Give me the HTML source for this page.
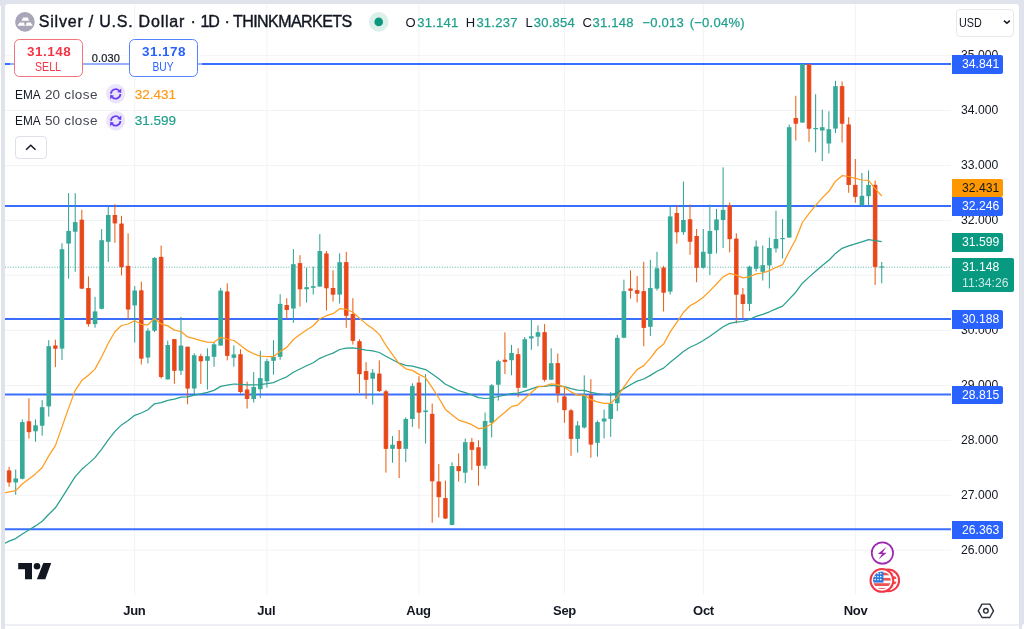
<!DOCTYPE html>
<html><head><meta charset="utf-8"><title>Silver / U.S. Dollar</title>
<style>
html,body{margin:0;padding:0}
body{width:1024px;height:629px;overflow:hidden;position:relative;background:#e0e3eb;font-family:"Liberation Sans",sans-serif;color:#131722}
.abs{position:absolute}
.panel{position:absolute;left:5px;top:3.9px;width:1014.2px;height:626px;background:#fff;border-radius:3.5px 3.5px 0 0}
.t{position:absolute;white-space:nowrap;line-height:1}
.plab{position:absolute;left:952px;width:51px;height:18.4px;border-radius:0 2px 2px 0;color:#fff;font-size:13.3px;line-height:18.4px}
.plab span{position:absolute;left:9.7px;top:-0.35px;transform:scaleX(0.917);transform-origin:0 50%;white-space:nowrap}
.ptxt{position:absolute;left:960.7px;font-size:13.3px;line-height:14px;height:14px;color:#131722;transform:scaleX(0.917);transform-origin:0 50%;white-space:nowrap}
.mon{position:absolute;top:603.5px;font-size:13px;font-weight:bold;letter-spacing:-0.3px;line-height:14px;width:60px;text-align:center;color:#131722}

.ohlc{top:16.4px;font-size:13px;color:#131722}
.ohlc.v{color:#22a08d;letter-spacing:0.25px;-webkit-text-stroke:0.25px #22a08d}
.bs{top:39.3px;width:66.6px;height:35.5px;border:1.25px solid;border-radius:5.5px;background:#fff}
.bs .p{top:4.7px;font-size:13.5px;font-weight:bold;letter-spacing:0.45px;padding-left:1px}
.bs .l{top:20.5px;font-size:12.2px;transform:scaleX(0.875)}
.ttl{top:14px;font-size:16px;color:#131722;-webkit-text-stroke:0.4px #131722}
.ind{font-size:13.5px;color:#434651}
</style></head><body>
<div class="abs" style="left:-3px;top:4.8px;width:4px;height:630px;background:#fff;border-radius:0 2.5px 0 0"></div>
<div class="abs" style="left:1021.9px;top:623.5px;width:6px;height:8px;background:#fff;border-radius:2.5px 0 0 0"></div>
<div class="panel"></div>
<div class="abs" style="left:5px;top:624px;width:1014.2px;height:2.1px;background:#eef0f5"></div>
<svg class="abs" style="left:0;top:0" width="1024" height="629" viewBox="0 0 1024 629">
<line x1="5" x2="951" y1="55.4" y2="55.4" stroke="#f2f3f5" stroke-width="1"/>
<line x1="5" x2="951" y1="110.5" y2="110.5" stroke="#f2f3f5" stroke-width="1"/>
<line x1="5" x2="951" y1="165.5" y2="165.5" stroke="#f2f3f5" stroke-width="1"/>
<line x1="5" x2="951" y1="220.5" y2="220.5" stroke="#f2f3f5" stroke-width="1"/>
<line x1="5" x2="951" y1="275.2" y2="275.2" stroke="#f2f3f5" stroke-width="1"/>
<line x1="5" x2="951" y1="330.4" y2="330.4" stroke="#f2f3f5" stroke-width="1"/>
<line x1="5" x2="951" y1="385.5" y2="385.5" stroke="#f2f3f5" stroke-width="1"/>
<line x1="5" x2="951" y1="440.4" y2="440.4" stroke="#f2f3f5" stroke-width="1"/>
<line x1="5" x2="951" y1="495.3" y2="495.3" stroke="#f2f3f5" stroke-width="1"/>
<line x1="5" x2="951" y1="550.2" y2="550.2" stroke="#f2f3f5" stroke-width="1"/>
<line x1="134.7" x2="134.7" y1="4" y2="594.6" stroke="#f2f3f5" stroke-width="1"/>
<line x1="266.9" x2="266.9" y1="4" y2="594.6" stroke="#f2f3f5" stroke-width="1"/>
<line x1="419.0" x2="419.0" y1="4" y2="594.6" stroke="#f2f3f5" stroke-width="1"/>
<line x1="564.4" x2="564.4" y1="4" y2="594.6" stroke="#f2f3f5" stroke-width="1"/>
<line x1="703.3" x2="703.3" y1="4" y2="594.6" stroke="#f2f3f5" stroke-width="1"/>
<line x1="855.3" x2="855.3" y1="4" y2="594.6" stroke="#f2f3f5" stroke-width="1"/>
<line x1="5" x2="951" y1="267.2" y2="267.2" stroke="#5bb5a6" stroke-width="1" stroke-dasharray="1 1.6"/>
<line x1="5" x2="951" y1="64.0" y2="64.0" stroke="#2962ff" stroke-width="2" stroke-opacity="0.92"/>
<line x1="5" x2="951" y1="205.9" y2="205.9" stroke="#2962ff" stroke-width="2" stroke-opacity="0.92"/>
<line x1="5" x2="951" y1="319.1" y2="319.1" stroke="#2962ff" stroke-width="2" stroke-opacity="0.92"/>
<line x1="5" x2="951" y1="394.6" y2="394.6" stroke="#2962ff" stroke-width="2" stroke-opacity="0.92"/>
<line x1="5" x2="951" y1="529.3" y2="529.3" stroke="#2962ff" stroke-width="2" stroke-opacity="0.92"/>
<line x1="9.10" x2="9.10" y1="466.9" y2="486.8" stroke="#e8590c" stroke-width="1"/>
<rect x="6.80" y="470.5" width="4.6" height="11.9" fill="#f0555a"/>
<rect x="7.50" y="470.5" width="3.20" height="11.9" fill="#e64a0c"/>
<line x1="15.71" x2="15.71" y1="469.5" y2="494.7" stroke="#2a9f90" stroke-width="1"/>
<rect x="13.41" y="478.4" width="4.6" height="4.0" fill="#36a999"/>
<line x1="22.32" x2="22.32" y1="419.4" y2="479.4" stroke="#2a9f90" stroke-width="1"/>
<rect x="20.02" y="422.1" width="4.6" height="56.7" fill="#36a999"/>
<line x1="28.93" x2="28.93" y1="398.3" y2="438.6" stroke="#e8590c" stroke-width="1"/>
<rect x="26.63" y="421.4" width="4.6" height="10.7" fill="#f0555a"/>
<rect x="27.33" y="421.4" width="3.20" height="10.7" fill="#e64a0c"/>
<line x1="35.54" x2="35.54" y1="419.4" y2="441.8" stroke="#2a9f90" stroke-width="1"/>
<rect x="33.24" y="425.3" width="4.6" height="6.0" fill="#36a999"/>
<line x1="42.16" x2="42.16" y1="400.1" y2="435.7" stroke="#2a9f90" stroke-width="1"/>
<rect x="39.86" y="407.2" width="4.6" height="18.5" fill="#36a999"/>
<line x1="48.77" x2="48.77" y1="340.2" y2="416.6" stroke="#2a9f90" stroke-width="1"/>
<rect x="46.47" y="346.2" width="4.6" height="60.2" fill="#36a999"/>
<line x1="55.38" x2="55.38" y1="339.6" y2="367.1" stroke="#e8590c" stroke-width="1"/>
<rect x="53.08" y="345.6" width="4.6" height="3.0" fill="#f0555a"/>
<rect x="53.78" y="345.6" width="3.20" height="3.0" fill="#e64a0c"/>
<line x1="61.99" x2="61.99" y1="243.2" y2="360.1" stroke="#2a9f90" stroke-width="1"/>
<rect x="59.69" y="249.2" width="4.6" height="99.4" fill="#36a999"/>
<line x1="68.60" x2="68.60" y1="193.1" y2="278.6" stroke="#2a9f90" stroke-width="1"/>
<rect x="66.30" y="230.9" width="4.6" height="12.7" fill="#36a999"/>
<line x1="75.21" x2="75.21" y1="193.1" y2="271.8" stroke="#2a9f90" stroke-width="1"/>
<rect x="72.91" y="222.1" width="4.6" height="9.6" fill="#36a999"/>
<line x1="81.82" x2="81.82" y1="209.8" y2="289" stroke="#e8590c" stroke-width="1"/>
<rect x="79.52" y="219.8" width="4.6" height="68.7" fill="#f0555a"/>
<rect x="80.22" y="219.8" width="3.20" height="68.7" fill="#e64a0c"/>
<line x1="88.43" x2="88.43" y1="276.4" y2="326.7" stroke="#e8590c" stroke-width="1"/>
<rect x="86.13" y="288" width="4.6" height="36.1" fill="#f0555a"/>
<rect x="86.83" y="288" width="3.20" height="36.1" fill="#e64a0c"/>
<line x1="95.04" x2="95.04" y1="296.8" y2="327.7" stroke="#2a9f90" stroke-width="1"/>
<rect x="92.74" y="311.4" width="4.6" height="12.7" fill="#36a999"/>
<line x1="101.65" x2="101.65" y1="229.1" y2="309.4" stroke="#2a9f90" stroke-width="1"/>
<rect x="99.35" y="240.2" width="4.6" height="68.6" fill="#36a999"/>
<line x1="108.26" x2="108.26" y1="206.4" y2="261.9" stroke="#2a9f90" stroke-width="1"/>
<rect x="105.96" y="215" width="4.6" height="26.8" fill="#36a999"/>
<line x1="114.88" x2="114.88" y1="204.3" y2="242.8" stroke="#e8590c" stroke-width="1"/>
<rect x="112.58" y="215" width="4.6" height="8.3" fill="#f0555a"/>
<rect x="113.28" y="215" width="3.20" height="8.3" fill="#e64a0c"/>
<line x1="121.49" x2="121.49" y1="215.8" y2="275.4" stroke="#e8590c" stroke-width="1"/>
<rect x="119.19" y="223.7" width="4.6" height="43.4" fill="#f0555a"/>
<rect x="119.89" y="223.7" width="3.20" height="43.4" fill="#e64a0c"/>
<line x1="128.10" x2="128.10" y1="233.3" y2="319.8" stroke="#e8590c" stroke-width="1"/>
<rect x="125.80" y="265.9" width="4.6" height="43.5" fill="#f0555a"/>
<rect x="126.50" y="265.9" width="3.20" height="43.5" fill="#e64a0c"/>
<line x1="134.71" x2="134.71" y1="286.1" y2="342.6" stroke="#2a9f90" stroke-width="1"/>
<rect x="132.41" y="290.5" width="4.6" height="14.9" fill="#36a999"/>
<line x1="141.32" x2="141.32" y1="281.6" y2="364.5" stroke="#e8590c" stroke-width="1"/>
<rect x="139.02" y="290.5" width="4.6" height="68.0" fill="#f0555a"/>
<rect x="139.72" y="290.5" width="3.20" height="68.0" fill="#e64a0c"/>
<line x1="147.93" x2="147.93" y1="328.3" y2="363.5" stroke="#2a9f90" stroke-width="1"/>
<rect x="145.63" y="330.7" width="4.6" height="26.8" fill="#36a999"/>
<line x1="154.54" x2="154.54" y1="257.1" y2="332.1" stroke="#2a9f90" stroke-width="1"/>
<rect x="152.24" y="257.9" width="4.6" height="72.8" fill="#36a999"/>
<line x1="161.15" x2="161.15" y1="245.6" y2="378.6" stroke="#e8590c" stroke-width="1"/>
<rect x="158.85" y="256.9" width="4.6" height="120.1" fill="#f0555a"/>
<rect x="159.55" y="256.9" width="3.20" height="120.1" fill="#e64a0c"/>
<line x1="167.76" x2="167.76" y1="340.6" y2="379.4" stroke="#2a9f90" stroke-width="1"/>
<rect x="165.46" y="345" width="4.6" height="34.4" fill="#36a999"/>
<line x1="174.38" x2="174.38" y1="339.2" y2="383.8" stroke="#e8590c" stroke-width="1"/>
<rect x="172.07" y="339.2" width="4.6" height="31.5" fill="#f0555a"/>
<rect x="172.77" y="339.2" width="3.20" height="31.5" fill="#e64a0c"/>
<line x1="180.99" x2="180.99" y1="316.8" y2="375" stroke="#2a9f90" stroke-width="1"/>
<rect x="178.69" y="345.6" width="4.6" height="25.1" fill="#36a999"/>
<line x1="187.60" x2="187.60" y1="346.8" y2="404.3" stroke="#e8590c" stroke-width="1"/>
<rect x="185.30" y="346.8" width="4.6" height="41.6" fill="#f0555a"/>
<rect x="186.00" y="346.8" width="3.20" height="41.6" fill="#e64a0c"/>
<line x1="194.21" x2="194.21" y1="353.3" y2="394.6" stroke="#2a9f90" stroke-width="1"/>
<rect x="191.91" y="355.2" width="4.6" height="33.3" fill="#36a999"/>
<line x1="200.82" x2="200.82" y1="353.8" y2="384" stroke="#e8590c" stroke-width="1"/>
<rect x="198.52" y="356.2" width="4.6" height="5.0" fill="#f0555a"/>
<rect x="199.22" y="356.2" width="3.20" height="5.0" fill="#e64a0c"/>
<line x1="207.43" x2="207.43" y1="348.3" y2="389.6" stroke="#2a9f90" stroke-width="1"/>
<rect x="205.13" y="356.2" width="4.6" height="4.6" fill="#36a999"/>
<line x1="214.04" x2="214.04" y1="342.4" y2="366.7" stroke="#2a9f90" stroke-width="1"/>
<rect x="211.74" y="344.3" width="4.6" height="12.5" fill="#36a999"/>
<line x1="220.65" x2="220.65" y1="287.8" y2="345.6" stroke="#2a9f90" stroke-width="1"/>
<rect x="218.35" y="290.6" width="4.6" height="55.0" fill="#36a999"/>
<line x1="227.26" x2="227.26" y1="283.3" y2="360.4" stroke="#e8590c" stroke-width="1"/>
<rect x="224.96" y="291.6" width="4.6" height="64.2" fill="#f0555a"/>
<rect x="225.66" y="291.6" width="3.20" height="64.2" fill="#e64a0c"/>
<line x1="233.87" x2="233.87" y1="345.4" y2="366.7" stroke="#2a9f90" stroke-width="1"/>
<rect x="231.57" y="354.4" width="4.6" height="3.4" fill="#36a999"/>
<line x1="240.48" x2="240.48" y1="349.3" y2="393.6" stroke="#e8590c" stroke-width="1"/>
<rect x="238.18" y="354.4" width="4.6" height="37.6" fill="#f0555a"/>
<rect x="238.88" y="354.4" width="3.20" height="37.6" fill="#e64a0c"/>
<line x1="247.10" x2="247.10" y1="381.7" y2="408.5" stroke="#e8590c" stroke-width="1"/>
<rect x="244.80" y="389.6" width="4.6" height="9.4" fill="#f0555a"/>
<rect x="245.50" y="389.6" width="3.20" height="9.4" fill="#e64a0c"/>
<line x1="253.71" x2="253.71" y1="372.1" y2="402.5" stroke="#2a9f90" stroke-width="1"/>
<rect x="251.41" y="387" width="4.6" height="12.0" fill="#36a999"/>
<line x1="260.32" x2="260.32" y1="350.8" y2="398" stroke="#2a9f90" stroke-width="1"/>
<rect x="258.02" y="378.1" width="4.6" height="11.1" fill="#36a999"/>
<line x1="266.93" x2="266.93" y1="358.8" y2="387.6" stroke="#2a9f90" stroke-width="1"/>
<rect x="264.63" y="361.2" width="4.6" height="20.1" fill="#36a999"/>
<line x1="273.54" x2="273.54" y1="340.3" y2="374.7" stroke="#2a9f90" stroke-width="1"/>
<rect x="271.24" y="356.8" width="4.6" height="4.0" fill="#36a999"/>
<line x1="280.15" x2="280.15" y1="294.2" y2="359.8" stroke="#2a9f90" stroke-width="1"/>
<rect x="277.85" y="303.9" width="4.6" height="52.9" fill="#36a999"/>
<line x1="286.76" x2="286.76" y1="298.2" y2="318.8" stroke="#e8590c" stroke-width="1"/>
<rect x="284.46" y="305.1" width="4.6" height="4.8" fill="#f0555a"/>
<rect x="285.16" y="305.1" width="3.20" height="4.8" fill="#e64a0c"/>
<line x1="293.37" x2="293.37" y1="249.1" y2="322.8" stroke="#2a9f90" stroke-width="1"/>
<rect x="291.07" y="264.2" width="4.6" height="44.3" fill="#36a999"/>
<line x1="299.98" x2="299.98" y1="255.2" y2="306.5" stroke="#e8590c" stroke-width="1"/>
<rect x="297.68" y="263.2" width="4.6" height="26.0" fill="#f0555a"/>
<rect x="298.38" y="263.2" width="3.20" height="26.0" fill="#e64a0c"/>
<line x1="306.60" x2="306.60" y1="267.7" y2="302.5" stroke="#2a9f90" stroke-width="1"/>
<rect x="304.30" y="287.2" width="4.6" height="2.0" fill="#36a999"/>
<line x1="313.21" x2="313.21" y1="266.7" y2="294.6" stroke="#2a9f90" stroke-width="1"/>
<rect x="310.91" y="286.2" width="4.6" height="1.6" fill="#36a999"/>
<line x1="319.82" x2="319.82" y1="234.1" y2="286.6" stroke="#2a9f90" stroke-width="1"/>
<rect x="317.52" y="251" width="4.6" height="35.6" fill="#36a999"/>
<line x1="326.43" x2="326.43" y1="251" y2="310.5" stroke="#e8590c" stroke-width="1"/>
<rect x="324.13" y="253.6" width="4.6" height="34.6" fill="#f0555a"/>
<rect x="324.83" y="253.6" width="3.20" height="34.6" fill="#e64a0c"/>
<line x1="333.04" x2="333.04" y1="270.3" y2="301.5" stroke="#e8590c" stroke-width="1"/>
<rect x="330.74" y="288" width="4.6" height="6.6" fill="#f0555a"/>
<rect x="331.44" y="288" width="3.20" height="6.6" fill="#e64a0c"/>
<line x1="339.65" x2="339.65" y1="253.4" y2="303.5" stroke="#2a9f90" stroke-width="1"/>
<rect x="337.35" y="262.2" width="4.6" height="32.4" fill="#36a999"/>
<line x1="346.26" x2="346.26" y1="251.8" y2="327.8" stroke="#e8590c" stroke-width="1"/>
<rect x="343.96" y="262.2" width="4.6" height="53.5" fill="#f0555a"/>
<rect x="344.66" y="262.2" width="3.20" height="53.5" fill="#e64a0c"/>
<line x1="352.87" x2="352.87" y1="298.2" y2="344.6" stroke="#e8590c" stroke-width="1"/>
<rect x="350.57" y="314.1" width="4.6" height="26.7" fill="#f0555a"/>
<rect x="351.27" y="314.1" width="3.20" height="26.7" fill="#e64a0c"/>
<line x1="359.48" x2="359.48" y1="339.3" y2="393" stroke="#e8590c" stroke-width="1"/>
<rect x="357.18" y="341.3" width="4.6" height="32.8" fill="#f0555a"/>
<rect x="357.88" y="341.3" width="3.20" height="32.8" fill="#e64a0c"/>
<line x1="366.09" x2="366.09" y1="362.2" y2="399" stroke="#e8590c" stroke-width="1"/>
<rect x="363.79" y="371.1" width="4.6" height="8.6" fill="#f0555a"/>
<rect x="364.49" y="371.1" width="3.20" height="8.6" fill="#e64a0c"/>
<line x1="372.70" x2="372.70" y1="369.1" y2="404.5" stroke="#2a9f90" stroke-width="1"/>
<rect x="370.40" y="372.7" width="4.6" height="6.0" fill="#36a999"/>
<line x1="379.32" x2="379.32" y1="360.4" y2="392" stroke="#e8590c" stroke-width="1"/>
<rect x="377.02" y="373.7" width="4.6" height="17.3" fill="#f0555a"/>
<rect x="377.72" y="373.7" width="3.20" height="17.3" fill="#e64a0c"/>
<line x1="385.93" x2="385.93" y1="389.8" y2="472.7" stroke="#e8590c" stroke-width="1"/>
<rect x="383.63" y="391.4" width="4.6" height="57.4" fill="#f0555a"/>
<rect x="384.33" y="391.4" width="3.20" height="57.4" fill="#e64a0c"/>
<line x1="392.54" x2="392.54" y1="436" y2="462.7" stroke="#2a9f90" stroke-width="1"/>
<rect x="390.24" y="444.8" width="4.6" height="4.0" fill="#36a999"/>
<line x1="399.15" x2="399.15" y1="430" y2="478" stroke="#e8590c" stroke-width="1"/>
<rect x="396.85" y="441" width="4.6" height="7.8" fill="#f0555a"/>
<rect x="397.55" y="441" width="3.20" height="7.8" fill="#e64a0c"/>
<line x1="405.76" x2="405.76" y1="417.4" y2="462.1" stroke="#2a9f90" stroke-width="1"/>
<rect x="403.46" y="419" width="4.6" height="29.8" fill="#36a999"/>
<line x1="412.37" x2="412.37" y1="383.3" y2="426.9" stroke="#2a9f90" stroke-width="1"/>
<rect x="410.07" y="386.1" width="4.6" height="32.9" fill="#36a999"/>
<line x1="418.98" x2="418.98" y1="376.1" y2="428.7" stroke="#e8590c" stroke-width="1"/>
<rect x="416.68" y="382.7" width="4.6" height="29.8" fill="#f0555a"/>
<rect x="417.38" y="382.7" width="3.20" height="29.8" fill="#e64a0c"/>
<line x1="425.59" x2="425.59" y1="374.1" y2="443.5" stroke="#2a9f90" stroke-width="1"/>
<rect x="423.29" y="410.5" width="4.6" height="1.6" fill="#36a999"/>
<line x1="432.20" x2="432.20" y1="403.6" y2="522.8" stroke="#e8590c" stroke-width="1"/>
<rect x="429.90" y="413.9" width="4.6" height="67.3" fill="#f0555a"/>
<rect x="430.60" y="413.9" width="3.20" height="67.3" fill="#e64a0c"/>
<line x1="438.81" x2="438.81" y1="464.1" y2="517.4" stroke="#e8590c" stroke-width="1"/>
<rect x="436.51" y="481.6" width="4.6" height="15.5" fill="#f0555a"/>
<rect x="437.21" y="481.6" width="3.20" height="15.5" fill="#e64a0c"/>
<line x1="445.43" x2="445.43" y1="480.6" y2="519" stroke="#e8590c" stroke-width="1"/>
<rect x="443.13" y="498.1" width="4.6" height="20.3" fill="#f0555a"/>
<rect x="443.83" y="498.1" width="3.20" height="20.3" fill="#e64a0c"/>
<line x1="452.04" x2="452.04" y1="462.3" y2="525.3" stroke="#2a9f90" stroke-width="1"/>
<rect x="449.74" y="466.1" width="4.6" height="58.8" fill="#36a999"/>
<line x1="458.65" x2="458.65" y1="453.4" y2="481.6" stroke="#e8590c" stroke-width="1"/>
<rect x="456.35" y="466.1" width="4.6" height="5.0" fill="#f0555a"/>
<rect x="457.05" y="466.1" width="3.20" height="5.0" fill="#e64a0c"/>
<line x1="465.26" x2="465.26" y1="438.5" y2="483.2" stroke="#2a9f90" stroke-width="1"/>
<rect x="462.96" y="442.2" width="4.6" height="30.5" fill="#36a999"/>
<line x1="471.87" x2="471.87" y1="437.9" y2="470.1" stroke="#e8590c" stroke-width="1"/>
<rect x="469.57" y="442.2" width="4.6" height="7.6" fill="#f0555a"/>
<rect x="470.27" y="442.2" width="3.20" height="7.6" fill="#e64a0c"/>
<line x1="478.48" x2="478.48" y1="440.2" y2="485.6" stroke="#e8590c" stroke-width="1"/>
<rect x="476.18" y="447.4" width="4.6" height="18.3" fill="#f0555a"/>
<rect x="476.88" y="447.4" width="3.20" height="18.3" fill="#e64a0c"/>
<line x1="485.09" x2="485.09" y1="412.5" y2="469.1" stroke="#2a9f90" stroke-width="1"/>
<rect x="482.79" y="421" width="4.6" height="44.7" fill="#36a999"/>
<line x1="491.70" x2="491.70" y1="384.1" y2="437.5" stroke="#2a9f90" stroke-width="1"/>
<rect x="489.40" y="385.3" width="4.6" height="37.5" fill="#36a999"/>
<line x1="498.31" x2="498.31" y1="359.8" y2="400.6" stroke="#2a9f90" stroke-width="1"/>
<rect x="496.01" y="361.2" width="4.6" height="23.5" fill="#36a999"/>
<line x1="504.93" x2="504.93" y1="332.4" y2="374.1" stroke="#e8590c" stroke-width="1"/>
<rect x="502.62" y="359.8" width="4.6" height="2.0" fill="#f0555a"/>
<rect x="503.32" y="359.8" width="3.20" height="2.0" fill="#e64a0c"/>
<line x1="511.54" x2="511.54" y1="344.9" y2="375.3" stroke="#2a9f90" stroke-width="1"/>
<rect x="509.24" y="352.9" width="4.6" height="7.3" fill="#36a999"/>
<line x1="518.15" x2="518.15" y1="348.3" y2="397.2" stroke="#e8590c" stroke-width="1"/>
<rect x="515.85" y="354.3" width="4.6" height="33.4" fill="#f0555a"/>
<rect x="516.55" y="354.3" width="3.20" height="33.4" fill="#e64a0c"/>
<line x1="524.76" x2="524.76" y1="337" y2="387.7" stroke="#2a9f90" stroke-width="1"/>
<rect x="522.46" y="339.2" width="4.6" height="48.5" fill="#36a999"/>
<line x1="531.37" x2="531.37" y1="319.7" y2="349.8" stroke="#2a9f90" stroke-width="1"/>
<rect x="529.07" y="336.3" width="4.6" height="2.1" fill="#36a999"/>
<line x1="537.98" x2="537.98" y1="325.4" y2="346.3" stroke="#2a9f90" stroke-width="1"/>
<rect x="535.68" y="332.3" width="4.6" height="4.4" fill="#36a999"/>
<line x1="544.59" x2="544.59" y1="324.1" y2="381.7" stroke="#e8590c" stroke-width="1"/>
<rect x="542.29" y="332.3" width="4.6" height="47.4" fill="#f0555a"/>
<rect x="542.99" y="332.3" width="3.20" height="47.4" fill="#e64a0c"/>
<line x1="551.20" x2="551.20" y1="348.3" y2="379.7" stroke="#2a9f90" stroke-width="1"/>
<rect x="548.90" y="363.2" width="4.6" height="16.5" fill="#36a999"/>
<line x1="557.81" x2="557.81" y1="353.5" y2="402.6" stroke="#e8590c" stroke-width="1"/>
<rect x="555.51" y="363.2" width="4.6" height="30.4" fill="#f0555a"/>
<rect x="556.21" y="363.2" width="3.20" height="30.4" fill="#e64a0c"/>
<line x1="564.42" x2="564.42" y1="387.7" y2="422.8" stroke="#e8590c" stroke-width="1"/>
<rect x="562.12" y="396.6" width="4.6" height="13.5" fill="#f0555a"/>
<rect x="562.82" y="396.6" width="3.20" height="13.5" fill="#e64a0c"/>
<line x1="571.03" x2="571.03" y1="408.8" y2="455.8" stroke="#e8590c" stroke-width="1"/>
<rect x="568.74" y="410.5" width="4.6" height="28.3" fill="#f0555a"/>
<rect x="569.44" y="410.5" width="3.20" height="28.3" fill="#e64a0c"/>
<line x1="577.65" x2="577.65" y1="421.1" y2="452.6" stroke="#2a9f90" stroke-width="1"/>
<rect x="575.35" y="425.4" width="4.6" height="13.5" fill="#36a999"/>
<line x1="584.26" x2="584.26" y1="375.4" y2="428.5" stroke="#2a9f90" stroke-width="1"/>
<rect x="581.96" y="395.1" width="4.6" height="32.4" fill="#36a999"/>
<line x1="590.87" x2="590.87" y1="379.2" y2="457.7" stroke="#e8590c" stroke-width="1"/>
<rect x="588.57" y="395.1" width="4.6" height="49.3" fill="#f0555a"/>
<rect x="589.27" y="395.1" width="3.20" height="49.3" fill="#e64a0c"/>
<line x1="597.48" x2="597.48" y1="420.5" y2="456.7" stroke="#2a9f90" stroke-width="1"/>
<rect x="595.18" y="422.1" width="4.6" height="20.7" fill="#36a999"/>
<line x1="604.09" x2="604.09" y1="409.6" y2="438.4" stroke="#2a9f90" stroke-width="1"/>
<rect x="601.79" y="418.5" width="4.6" height="3.0" fill="#36a999"/>
<line x1="610.70" x2="610.70" y1="392.1" y2="436.8" stroke="#2a9f90" stroke-width="1"/>
<rect x="608.40" y="403.6" width="4.6" height="15.3" fill="#36a999"/>
<line x1="617.31" x2="617.31" y1="334.9" y2="411" stroke="#2a9f90" stroke-width="1"/>
<rect x="615.01" y="337.9" width="4.6" height="65.3" fill="#36a999"/>
<line x1="623.92" x2="623.92" y1="279.7" y2="338.3" stroke="#2a9f90" stroke-width="1"/>
<rect x="621.62" y="291.2" width="4.6" height="46.5" fill="#36a999"/>
<line x1="630.53" x2="630.53" y1="270.3" y2="298.6" stroke="#e8590c" stroke-width="1"/>
<rect x="628.23" y="288.6" width="4.6" height="2.0" fill="#f0555a"/>
<rect x="628.93" y="288.6" width="3.20" height="2.0" fill="#e64a0c"/>
<line x1="637.14" x2="637.14" y1="276.1" y2="302.5" stroke="#e8590c" stroke-width="1"/>
<rect x="634.85" y="290.2" width="4.6" height="3.4" fill="#f0555a"/>
<rect x="635.55" y="290.2" width="3.20" height="3.4" fill="#e64a0c"/>
<line x1="643.76" x2="643.76" y1="261.8" y2="346.3" stroke="#e8590c" stroke-width="1"/>
<rect x="641.46" y="291.2" width="4.6" height="36.6" fill="#f0555a"/>
<rect x="642.16" y="291.2" width="3.20" height="36.6" fill="#e64a0c"/>
<line x1="650.37" x2="650.37" y1="259.8" y2="335.9" stroke="#2a9f90" stroke-width="1"/>
<rect x="648.07" y="288" width="4.6" height="38.8" fill="#36a999"/>
<line x1="656.98" x2="656.98" y1="251.8" y2="290.6" stroke="#2a9f90" stroke-width="1"/>
<rect x="654.68" y="268.3" width="4.6" height="20.3" fill="#36a999"/>
<line x1="663.59" x2="663.59" y1="265.8" y2="311.5" stroke="#e8590c" stroke-width="1"/>
<rect x="661.29" y="267.7" width="4.6" height="24.9" fill="#f0555a"/>
<rect x="661.99" y="267.7" width="3.20" height="24.9" fill="#e64a0c"/>
<line x1="670.20" x2="670.20" y1="206.5" y2="294.6" stroke="#2a9f90" stroke-width="1"/>
<rect x="667.90" y="216.4" width="4.6" height="75.2" fill="#36a999"/>
<line x1="676.81" x2="676.81" y1="205.5" y2="243.6" stroke="#e8590c" stroke-width="1"/>
<rect x="674.51" y="213" width="4.6" height="19.2" fill="#f0555a"/>
<rect x="675.21" y="213" width="3.20" height="19.2" fill="#e64a0c"/>
<line x1="683.42" x2="683.42" y1="181.6" y2="234.9" stroke="#2a9f90" stroke-width="1"/>
<rect x="681.12" y="220" width="4.6" height="12.2" fill="#36a999"/>
<line x1="690.03" x2="690.03" y1="204.5" y2="254.8" stroke="#e8590c" stroke-width="1"/>
<rect x="687.73" y="219.4" width="4.6" height="22.2" fill="#f0555a"/>
<rect x="688.43" y="219.4" width="3.20" height="22.2" fill="#e64a0c"/>
<line x1="696.64" x2="696.64" y1="229" y2="282.3" stroke="#e8590c" stroke-width="1"/>
<rect x="694.34" y="236.1" width="4.6" height="31.6" fill="#f0555a"/>
<rect x="695.04" y="236.1" width="3.20" height="31.6" fill="#e64a0c"/>
<line x1="703.25" x2="703.25" y1="229" y2="268.7" stroke="#2a9f90" stroke-width="1"/>
<rect x="700.96" y="251.8" width="4.6" height="15.9" fill="#36a999"/>
<line x1="709.87" x2="709.87" y1="204.5" y2="275.1" stroke="#2a9f90" stroke-width="1"/>
<rect x="707.57" y="231" width="4.6" height="22.8" fill="#36a999"/>
<line x1="716.48" x2="716.48" y1="208.9" y2="253.4" stroke="#2a9f90" stroke-width="1"/>
<rect x="714.18" y="219.4" width="4.6" height="10.8" fill="#36a999"/>
<line x1="723.09" x2="723.09" y1="167.3" y2="247.9" stroke="#2a9f90" stroke-width="1"/>
<rect x="720.79" y="209.9" width="4.6" height="10.1" fill="#36a999"/>
<line x1="729.70" x2="729.70" y1="202.5" y2="252.4" stroke="#e8590c" stroke-width="1"/>
<rect x="727.40" y="205.5" width="4.6" height="33.6" fill="#f0555a"/>
<rect x="728.10" y="205.5" width="3.20" height="33.6" fill="#e64a0c"/>
<line x1="736.31" x2="736.31" y1="233.3" y2="323.4" stroke="#e8590c" stroke-width="1"/>
<rect x="734.01" y="238.7" width="4.6" height="55.9" fill="#f0555a"/>
<rect x="734.71" y="238.7" width="3.20" height="55.9" fill="#e64a0c"/>
<line x1="742.92" x2="742.92" y1="288" y2="318.4" stroke="#e8590c" stroke-width="1"/>
<rect x="740.62" y="294.6" width="4.6" height="9.3" fill="#f0555a"/>
<rect x="741.32" y="294.6" width="3.20" height="9.3" fill="#e64a0c"/>
<line x1="749.53" x2="749.53" y1="265.8" y2="311.1" stroke="#2a9f90" stroke-width="1"/>
<rect x="747.23" y="266.7" width="4.6" height="37.2" fill="#36a999"/>
<line x1="756.14" x2="756.14" y1="240.4" y2="271.5" stroke="#2a9f90" stroke-width="1"/>
<rect x="753.84" y="246.5" width="4.6" height="22.3" fill="#36a999"/>
<line x1="762.75" x2="762.75" y1="245.5" y2="280.5" stroke="#2a9f90" stroke-width="1"/>
<rect x="760.45" y="265.2" width="4.6" height="6.6" fill="#36a999"/>
<line x1="769.37" x2="769.37" y1="237.6" y2="288.4" stroke="#2a9f90" stroke-width="1"/>
<rect x="767.07" y="248" width="4.6" height="17.4" fill="#36a999"/>
<line x1="775.98" x2="775.98" y1="210.7" y2="252.5" stroke="#2a9f90" stroke-width="1"/>
<rect x="773.68" y="239" width="4.6" height="9.5" fill="#36a999"/>
<line x1="782.59" x2="782.59" y1="219.1" y2="258.4" stroke="#2a9f90" stroke-width="1"/>
<rect x="780.29" y="238" width="4.6" height="1.2" fill="#36a999"/>
<line x1="789.20" x2="789.20" y1="124.6" y2="237.6" stroke="#2a9f90" stroke-width="1"/>
<rect x="786.90" y="127.2" width="4.6" height="110.4" fill="#36a999"/>
<line x1="795.81" x2="795.81" y1="95.8" y2="140.5" stroke="#e8590c" stroke-width="1"/>
<rect x="793.51" y="118" width="4.6" height="5.6" fill="#f0555a"/>
<rect x="794.21" y="118" width="3.20" height="5.6" fill="#e64a0c"/>
<line x1="802.42" x2="802.42" y1="64" y2="122.6" stroke="#2a9f90" stroke-width="1"/>
<rect x="800.12" y="64" width="4.6" height="58.6" fill="#36a999"/>
<line x1="809.03" x2="809.03" y1="64" y2="141.9" stroke="#e8590c" stroke-width="1"/>
<rect x="806.73" y="64.3" width="4.6" height="64.3" fill="#f0555a"/>
<rect x="807.43" y="64.3" width="3.20" height="64.3" fill="#e64a0c"/>
<line x1="815.64" x2="815.64" y1="94.2" y2="152.4" stroke="#2a9f90" stroke-width="1"/>
<rect x="813.34" y="128" width="4.6" height="1.2" fill="#36a999"/>
<line x1="822.25" x2="822.25" y1="109.7" y2="161" stroke="#2a9f90" stroke-width="1"/>
<rect x="819.95" y="127.2" width="4.6" height="3.3" fill="#36a999"/>
<line x1="828.86" x2="828.86" y1="111.3" y2="153.4" stroke="#2a9f90" stroke-width="1"/>
<rect x="826.56" y="129.2" width="4.6" height="14.3" fill="#36a999"/>
<line x1="835.48" x2="835.48" y1="80.8" y2="133.1" stroke="#2a9f90" stroke-width="1"/>
<rect x="833.18" y="86.2" width="4.6" height="42.4" fill="#36a999"/>
<line x1="842.09" x2="842.09" y1="81.4" y2="142.5" stroke="#e8590c" stroke-width="1"/>
<rect x="839.79" y="86.2" width="4.6" height="37.4" fill="#f0555a"/>
<rect x="840.49" y="86.2" width="3.20" height="37.4" fill="#e64a0c"/>
<line x1="848.70" x2="848.70" y1="117.2" y2="192.8" stroke="#e8590c" stroke-width="1"/>
<rect x="846.40" y="124.6" width="4.6" height="60.3" fill="#f0555a"/>
<rect x="847.10" y="124.6" width="3.20" height="60.3" fill="#e64a0c"/>
<line x1="855.31" x2="855.31" y1="159" y2="202.8" stroke="#e8590c" stroke-width="1"/>
<rect x="853.01" y="184.9" width="4.6" height="11.9" fill="#f0555a"/>
<rect x="853.71" y="184.9" width="3.20" height="11.9" fill="#e64a0c"/>
<line x1="861.92" x2="861.92" y1="173" y2="205.4" stroke="#2a9f90" stroke-width="1"/>
<rect x="859.62" y="195.8" width="4.6" height="9.6" fill="#36a999"/>
<line x1="868.53" x2="868.53" y1="170.4" y2="206.4" stroke="#2a9f90" stroke-width="1"/>
<rect x="866.23" y="184.9" width="4.6" height="11.3" fill="#36a999"/>
<line x1="875.14" x2="875.14" y1="180.5" y2="284.9" stroke="#e8590c" stroke-width="1"/>
<rect x="872.84" y="184.9" width="4.6" height="81.9" fill="#f0555a"/>
<rect x="873.54" y="184.9" width="3.20" height="81.9" fill="#e64a0c"/>
<line x1="881.75" x2="881.75" y1="262" y2="283.3" stroke="#2a9f90" stroke-width="1"/>
<rect x="879.45" y="266.4" width="4.6" height="1.2" fill="#36a999"/>
<path d="M5.0,543.2 L9.1,541.1 L15.7,538.6 L22.3,534.0 L28.9,530.0 L35.5,525.9 L42.2,521.2 L48.8,514.3 L55.4,507.8 L62.0,497.6 L68.6,487.2 L75.2,476.7 L81.8,469.3 L88.4,463.6 L95.0,457.6 L101.7,449.1 L108.3,439.9 L114.9,431.4 L121.5,424.9 L128.1,420.4 L134.7,415.3 L141.3,413.0 L147.9,409.8 L154.5,403.8 L161.2,402.7 L167.8,400.4 L174.4,399.2 L181.0,397.1 L187.6,396.8 L194.2,395.1 L200.8,393.8 L207.4,392.3 L214.0,390.4 L220.7,386.4 L227.3,385.2 L233.9,384.0 L240.5,384.3 L247.1,384.8 L253.7,384.9 L260.3,384.6 L266.9,383.7 L273.5,382.6 L280.2,379.5 L286.8,376.8 L293.4,372.3 L300.0,369.0 L306.6,365.8 L313.2,362.7 L319.8,358.3 L326.4,355.5 L333.0,353.1 L339.7,349.5 L346.3,348.2 L352.9,347.9 L359.5,348.9 L366.1,350.1 L372.7,350.9 L379.3,352.5 L385.9,356.2 L392.5,359.7 L399.1,363.2 L405.8,365.3 L412.4,366.1 L419.0,367.9 L425.6,369.6 L432.2,373.9 L438.8,378.7 L445.4,384.2 L452.0,387.4 L458.6,390.7 L465.3,392.7 L471.9,394.9 L478.5,397.6 L485.1,398.5 L491.7,398.0 L498.3,396.5 L504.9,395.2 L511.5,393.5 L518.1,393.2 L524.8,391.1 L531.4,388.9 L538.0,386.7 L544.6,386.4 L551.2,385.5 L557.8,385.8 L564.4,386.7 L571.0,388.7 L577.6,390.1 L584.3,390.3 L590.9,392.4 L597.5,393.6 L604.1,394.5 L610.7,394.9 L617.3,392.6 L623.9,388.6 L630.5,384.7 L637.1,381.1 L643.8,379.0 L650.4,375.4 L657.0,371.2 L663.6,368.1 L670.2,362.2 L676.8,357.0 L683.4,351.6 L690.0,347.3 L696.6,344.2 L703.3,340.5 L709.9,336.2 L716.5,331.6 L723.1,326.8 L729.7,323.4 L736.3,322.2 L742.9,321.5 L749.5,319.3 L756.1,316.4 L762.8,314.4 L769.4,311.8 L776.0,308.9 L782.6,306.1 L789.2,299.1 L795.8,292.2 L802.4,283.2 L809.0,277.1 L815.6,271.3 L822.3,265.6 L828.9,260.2 L835.5,253.4 L842.1,248.3 L848.7,245.8 L855.3,243.8 L861.9,241.9 L868.5,239.7 L875.1,240.7 L881.8,241.7" fill="none" stroke="#2a9f90" stroke-width="1.25" stroke-linejoin="round"/>
<path d="M5.0,492.8 L9.1,491.9 L15.7,490.6 L22.3,484.0 L28.9,479.0 L35.5,473.9 L42.2,467.5 L48.8,455.9 L55.4,445.6 L62.0,426.9 L68.6,408.1 L75.2,390.4 L81.8,380.6 L88.4,375.2 L95.0,369.1 L101.7,356.8 L108.3,343.2 L114.9,331.7 L121.5,325.5 L128.1,324.0 L134.7,320.7 L141.3,324.3 L147.9,324.8 L154.5,318.4 L161.2,323.9 L167.8,325.9 L174.4,330.1 L181.0,331.5 L187.6,336.9 L194.2,338.6 L200.8,340.7 L207.4,342.1 L214.0,342.3 L220.7,337.3 L227.3,339.0 L233.9,340.5 L240.5,345.3 L247.1,350.4 L253.7,353.8 L260.3,356.1 L266.9,356.5 L273.5,356.5 L280.2,351.4 L286.8,347.4 L293.4,339.5 L300.0,334.6 L306.6,330.1 L313.2,325.8 L319.8,318.7 L326.4,315.7 L333.0,313.7 L339.7,308.7 L346.3,309.3 L352.9,312.3 L359.5,318.1 L366.1,323.9 L372.7,328.5 L379.3,334.4 L385.9,345.3 L392.5,354.7 L399.1,363.6 L405.8,368.8 L412.4,370.4 L419.0,374.4 L425.6,377.8 L432.2,387.6 L438.8,398.0 L445.4,409.4 L452.0,414.7 L458.6,420.1 L465.3,422.1 L471.9,424.7 L478.5,428.6 L485.1,427.8 L491.7,423.7 L498.3,417.7 L504.9,412.3 L511.5,406.6 L518.1,404.8 L524.8,398.5 L531.4,392.5 L538.0,386.7 L544.6,386.0 L551.2,383.8 L557.8,384.7 L564.4,387.1 L571.0,391.9 L577.6,395.1 L584.3,395.0 L590.9,399.7 L597.5,401.8 L604.1,403.3 L610.7,403.3 L617.3,397.0 L623.9,386.9 L630.5,377.7 L637.1,369.6 L643.8,365.6 L650.4,358.2 L657.0,349.5 L663.6,344.1 L670.2,331.9 L676.8,322.3 L683.4,312.5 L690.0,305.7 L696.6,302.1 L703.3,297.2 L709.9,290.9 L716.5,284.0 L723.1,276.9 L729.7,273.3 L736.3,275.2 L742.9,277.9 L749.5,276.8 L756.1,273.9 L762.8,273.0 L769.4,270.6 L776.0,267.5 L782.6,264.7 L789.2,251.5 L795.8,239.3 L802.4,222.5 L809.0,213.6 L815.6,205.4 L822.3,197.9 L828.9,191.3 L835.5,181.2 L842.1,175.7 L848.7,176.5 L855.3,178.4 L861.9,180.0 L868.5,180.4 L875.1,188.6 L881.8,196.0" fill="none" stroke="#ff9d1f" stroke-width="1.25" stroke-linejoin="round"/>
</svg>

<!-- symbol icon -->
<svg class="abs" style="left:15px;top:12px" width="20" height="20" viewBox="0 0 20 20">
<circle cx="9.95" cy="9.9" r="9.8" fill="#a9a6b8"/>
<path d="M8.2 5.5h4.7l1.1 3.3H6.4z" fill="#fff"/>
<path d="M4.7 10.4h4.4l.5 3H2.6z" fill="#fff"/>
<path d="M11.7 10.4h3.8l2.1 3H10.8z" fill="#fff"/>
<path d="M2.6 13.4h15v.5h-15z" fill="#fff"/>
</svg>
<div class="t ttl" style="left:38.8px;letter-spacing:0.78px">Silver / U.S. Dollar</div>
<div class="t ttl" style="left:190.5px">·</div>
<div class="t ttl" style="left:200.6px;letter-spacing:-1.3px">1D</div>
<div class="t ttl" style="left:224.4px">·</div>
<div class="t ttl" style="left:233px;letter-spacing:-0.56px">THINKMARKETS</div>
<!-- market status dot -->
<svg class="abs" style="left:368px;top:11px" width="22" height="22" viewBox="0 0 22 22"><circle cx="10.7" cy="10.9" r="9.8" fill="#dcf0eb"/><circle cx="10.7" cy="10.9" r="4.3" fill="#0d987d"/></svg>
<div class="t ohlc" style="left:405.6px">O</div><div class="t ohlc v" style="left:417.2px">31.141</div>
<div class="t ohlc" style="left:465.8px">H</div><div class="t ohlc v" style="left:476.4px">31.237</div>
<div class="t ohlc" style="left:525.6px">L</div><div class="t ohlc v" style="left:533.7px">30.854</div>
<div class="t ohlc" style="left:582.6px">C</div><div class="t ohlc v" style="left:592.5px">31.148</div>
<div class="t ohlc v" style="left:642.4px">−0.013</div><div class="t ohlc v" style="left:689.7px">(−0.04%)</div>
<!-- sell / buy -->
<div class="abs" style="left:9.7px;top:38px;width:192px;height:40px;background:rgba(255,255,255,.46)"></div>
<div class="abs bs" style="left:14.1px;border-color:#f4737d;color:#f23645"><div class="t p" style="left:0;width:66px;text-align:center">31.148</div><div class="t l" style="left:0;width:66px;text-align:center">SELL</div></div>
<div class="t" style="left:91.7px;top:53.3px;font-size:11px;color:#131722;letter-spacing:0.15px;-webkit-text-stroke:0.2px #131722">0.030</div>
<div class="abs bs" style="left:129px;border-color:#5580ff;color:#2962ff"><div class="t p" style="left:0;width:66px;text-align:center">31.178</div><div class="t l" style="left:0;width:66px;text-align:center;transform:scaleX(0.84)">BUY</div></div>
<!-- indicators -->
<div class="t ind" style="left:15.2px;top:87.9px;color:#131722;transform:scaleX(0.875);transform-origin:0 50%">EMA</div><div class="t ind" style="left:45px;top:87.9px">20</div><div class="t ind" style="left:64.2px;top:87.9px;letter-spacing:0.45px">close</div>
<svg class="abs" style="left:106px;top:84.4px" width="20" height="20" viewBox="0 0 20 20"><circle cx="9.7" cy="9.7" r="9.7" fill="#ebe5fc"/>
<path d="M5.00 9.74A4.7 4.7 0 0 1 13.19 6.76" fill="none" stroke="#6a3df5" stroke-width="1.8"/>
<path d="M15.20 8.98L15.30 4.46L11.28 8.07z" fill="#6a3df5"/>
<path d="M14.40 10.06A4.7 4.7 0 0 1 6.21 13.04" fill="none" stroke="#6a3df5" stroke-width="1.8"/>
<path d="M4.20 10.82L4.10 15.34L8.12 11.73z" fill="#6a3df5"/></svg>
<div class="t ind" style="left:134.7px;top:87.9px;color:#ff9a1a;-webkit-text-stroke:0.2px #ff9a1a;letter-spacing:0px">32.431</div>
<div class="t ind" style="left:15.2px;top:114.2px;color:#131722;transform:scaleX(0.875);transform-origin:0 50%">EMA</div><div class="t ind" style="left:45px;top:114.2px">50</div><div class="t ind" style="left:64.2px;top:114.2px;letter-spacing:0.45px">close</div>
<svg class="abs" style="left:106px;top:110.7px" width="20" height="20" viewBox="0 0 20 20"><circle cx="9.7" cy="9.7" r="9.7" fill="#ebe5fc"/>
<path d="M5.00 9.74A4.7 4.7 0 0 1 13.19 6.76" fill="none" stroke="#6a3df5" stroke-width="1.8"/>
<path d="M15.20 8.98L15.30 4.46L11.28 8.07z" fill="#6a3df5"/>
<path d="M14.40 10.06A4.7 4.7 0 0 1 6.21 13.04" fill="none" stroke="#6a3df5" stroke-width="1.8"/>
<path d="M4.20 10.82L4.10 15.34L8.12 11.73z" fill="#6a3df5"/></svg>
<div class="t ind" style="left:134.7px;top:114.2px;color:#22a08d;-webkit-text-stroke:0.2px #22a08d;letter-spacing:0px">31.599</div>
<div class="abs" style="left:15.2px;top:136.3px;width:29.4px;height:20.4px;border:1px solid #dfe1e8;border-radius:4px;background:#fff"></div>
<svg class="abs" style="left:24px;top:142px" width="14" height="10" viewBox="0 0 14 10"><path d="M2.6 7.3L6.8 3.2l4.2 4.1" fill="none" stroke="#131722" stroke-width="1.5" stroke-linecap="square"/></svg>


<div class="abs" style="left:955.5px;top:9.1px;width:56.2px;height:25.6px;border:1px solid #e6e8ee;border-radius:4px;background:#fff"></div>
<div class="t" style="left:959.4px;top:16.3px;font-size:13px;color:#131722;transform:scaleX(0.83);transform-origin:0 50%">USD</div>
<svg class="abs" style="left:1002px;top:18px" width="10" height="8" viewBox="0 0 10 8"><path d="M2 2.6l2.9 2.7 2.9-2.7" fill="none" stroke="#131722" stroke-width="1.5"/></svg>
<div class="ptxt" style="top:48.05px">35.000</div>
<div class="ptxt" style="top:103.25px">34.000</div>
<div class="ptxt" style="top:158.15px">33.000</div>
<div class="ptxt" style="top:213.15px">32.000</div>
<div class="ptxt" style="top:323.15px">30.000</div>
<div class="ptxt" style="top:378.15px">29.000</div>
<div class="ptxt" style="top:433.15px">28.000</div>
<div class="ptxt" style="top:488.05px">27.000</div>
<div class="ptxt" style="top:542.95px">26.000</div>
<div class="plab" style="top:55.2px;background:#2962ff"><span>34.841</span></div>
<div class="plab" style="top:178.9px;background:#ff9800;color:#131722"><span>32.431</span></div>
<div class="plab" style="top:197.4px;background:#2962ff"><span>32.246</span></div>
<div class="plab" style="top:233.2px;background:#089981"><span>31.599</span></div>
<div class="plab" style="top:257.8px;background:#089981;width:62px;height:34px"><span style="top:0.35px">31.148</span><span style="top:16.05px;color:rgba(255,255,255,.78)">11:34:26</span></div>
<div class="plab" style="top:310.4px;background:#2962ff"><span>30.188</span></div>
<div class="plab" style="top:386px;background:#2962ff"><span>28.815</span></div>
<div class="plab" style="top:520.9px;background:#2962ff"><span>26.363</span></div>
<div class="mon" style="left:104.4px">Jun</div>
<div class="mon" style="left:236.3px">Jul</div>
<div class="mon" style="left:388.5px">Aug</div>
<div class="mon" style="left:534.5px">Sep</div>
<div class="mon" style="left:673.5px">Oct</div>
<div class="mon" style="left:825.5px">Nov</div>


<!-- TradingView logo -->
<svg class="abs" style="left:18px;top:562px" width="35" height="19" viewBox="0 0 35 19"><path d="M0.2 0.9H14V17.2H7V7.3H0.2z" fill="#131722"/><circle cx="19" cy="4.3" r="3.3" fill="#131722"/><path d="M25.3 0.9h7.9L27.3 17.2h-8.4z" fill="#131722"/></svg>
<!-- lightning -->
<svg class="abs" style="left:868px;top:539px" width="28" height="28" viewBox="0 0 28 28"><circle cx="14.4" cy="14" r="10.65" fill="#fff" stroke="#9c27b0" stroke-width="1.7"/><path d="M18.3 8L9.8 15h4.3L10.5 20.4l8.2-6.6h-4.2z" fill="#9c27b0"/></svg>
<!-- flags -->
<svg class="abs" style="left:866px;top:566px" width="38" height="30" viewBox="0 0 38 30">
<defs><clipPath id="fc"><circle cx="15.9" cy="14.3" r="8.8"/></clipPath><clipPath id="bc"><circle cx="22.2" cy="14.3" r="8.4"/></clipPath></defs>
<circle cx="22.2" cy="14.4" r="10.9" fill="#fff" stroke="#f23645" stroke-width="2"/>
<g clip-path="url(#bc)"><rect x="10" y="3" width="24" height="24" fill="#fff"/><rect x="10" y="5.2" width="24" height="2.6" fill="#ef5350"/><rect x="10" y="10.4" width="24" height="2.6" fill="#ef5350"/><rect x="10" y="15.6" width="24" height="2.6" fill="#ef5350"/><rect x="10" y="20.8" width="24" height="2.8" fill="#ef5350"/></g>
<circle cx="15.9" cy="14.4" r="11.4" fill="#fff" stroke="#f23645" stroke-width="2"/>
<g clip-path="url(#fc)"><rect x="4" y="3" width="24" height="24" fill="#fff"/><rect x="4" y="6.6" width="24" height="2.7" fill="#ef5350"/><rect x="4" y="11.9" width="24" height="2.7" fill="#ef5350"/><rect x="4" y="17.2" width="24" height="2.8" fill="#ef5350"/><rect x="4" y="22" width="24" height="3.4" fill="#ef5350"/><rect x="4" y="3" width="13.4" height="13.6" fill="#2979e0"/>
<g fill="#fff"><circle cx="9.2" cy="7.6" r=".8"/><circle cx="12" cy="7.6" r=".8"/><circle cx="14.8" cy="7.6" r=".8"/><circle cx="9.2" cy="10.6" r=".8"/><circle cx="12" cy="10.6" r=".8"/><circle cx="14.8" cy="10.6" r=".8"/><circle cx="6.6" cy="13.6" r=".8"/><circle cx="9.2" cy="13.6" r=".8"/><circle cx="12" cy="13.6" r=".8"/><circle cx="14.8" cy="13.6" r=".8"/><circle cx="6.6" cy="10.6" r=".8"/></g></g>
</svg>
<!-- settings -->
<svg class="abs" style="left:976px;top:601px" width="20" height="20" viewBox="0 0 20 20"><path d="M2.3 9.8L6 3.1h7.8l3.7 6.7-3.7 6.7H6z" fill="none" stroke="#2a2e39" stroke-width="1.4" stroke-linejoin="round"/><circle cx="9.9" cy="9.8" r="2.3" fill="none" stroke="#2a2e39" stroke-width="1.4"/></svg>

</body></html>
